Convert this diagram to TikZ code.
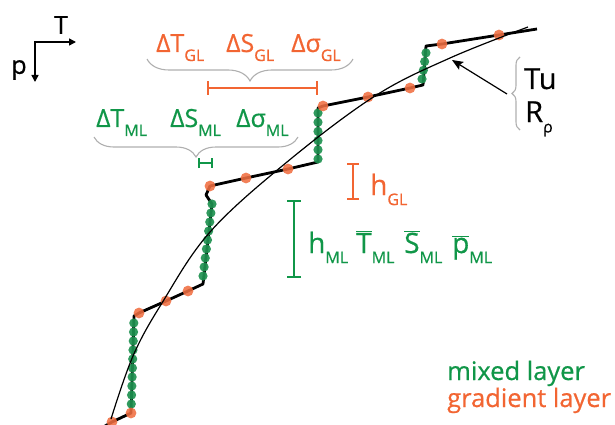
\documentclass[tikz,border=0pt]{standalone}
\usepackage{fontspec}
\setmainfont{Open Sans}[FakeBold=0.6]
\usetikzlibrary{decorations.pathreplacing,arrows.meta}
\definecolor{mlgreen}{RGB}{16,150,72}
\definecolor{glorange}{RGB}{242,101,50}
\definecolor{dotgreen}{RGB}{30,145,80}
\definecolor{dotorange}{RGB}{240,110,65}
\definecolor{bracegray}{RGB}{175,175,175}
\newcommand{\sbs}[1]{\raisebox{-0.36em}{\fontsize{16}{16}\selectfont #1}}
\newcommand{\ovl}[1]{\ensuremath{\overline{\hbox{#1}}}}
\begin{document}
\begin{tikzpicture}[x=1pt,y=-1pt,
  lbl/.style={inner sep=0pt, anchor=base west, font=\fontsize{25}{30}\selectfont},
  hlbl/.style={inner sep=0pt, anchor=base west, font=\fontsize{28}{32}\selectfont},
  leg/.style={inner sep=0pt, anchor=base west, font=\fontsize{25.5}{30}\selectfont},
  stair/.style={line width=2.8pt, line join=round},
  smoothcurve/.style={line width=1.2pt},
  gdot/.style={fill=dotgreen, fill opacity=0.92},
  odot/.style={fill=dotorange, fill opacity=0.88},
  gbrace/.style={draw=bracegray, line width=1.1pt, decorate},
  errbar/.style={line width=1.8pt},
  axisarrow/.style={line width=1.5pt, {Triangle[length=7pt,width=7pt]}-{Triangle[length=7pt,width=7pt]}}
]
\useasboundingbox (0,0) rectangle (615,425);

% axes
\coordinate (axT) at (76,42);
\coordinate (axO) at (35,42);
\coordinate (axP) at (35,82);
\draw[axisarrow] (axT) -- (axO) -- (axP);
\node[inner sep=0pt, font=\fontsize{25}{30}\selectfont] (Tlab) at (61,25) {T};
\node[inner sep=0pt, font=\fontsize{25}{30}\selectfont] (plab) at (19,70) {p};

% staircase corners
\coordinate (s0) at (105,426);
\coordinate (s1) at (112,422);
\coordinate (s2) at (131,413);
\coordinate (s3) at (134,316);
\coordinate (s4) at (139,313);
\coordinate (s5) at (166,301);
\coordinate (s6) at (188,291);
\coordinate (s7) at (203,284);
\coordinate (s8) at (212,204);
\coordinate (s9) at (206,195);
\coordinate (s10) at (210,186);
\coordinate (s11) at (246,178);
\coordinate (s12) at (288,169);
\coordinate (s13) at (318,162);
\coordinate (s14) at (318,108);
\coordinate (s15) at (323,106);
\coordinate (s16) at (368,97);
\coordinate (s17) at (410,88);
\coordinate (s18) at (423,85);
\coordinate (s19) at (426,46);
\coordinate (s20) at (442,44);
\coordinate (s21) at (499,35);
\coordinate (s22) at (537,29);
\draw[stair] (s0) -- (s1) -- (s2) -- (s3) -- (s4) -- (s5) -- (s6) -- (s7) -- (s8)
  -- (s9) -- (s10) -- (s11) -- (s12) -- (s13) -- (s14) -- (s15) -- (s16) -- (s17)
  -- (s18) -- (s19) -- (s20) -- (s21) -- (s22);

% mixed-layer dots
\foreach \i in {0,...,9} {\fill[gdot] ({131.3+0.28*\i},{404-9*\i}) circle (4.6);}
\foreach \i in {0,...,8} {\fill[gdot] ({203+1.125*\i},{276-9*\i}) circle (4.6);}
\foreach \i in {0,...,5} {\fill[gdot] (318,{159-9.2*\i}) circle (4.6);}
\foreach \i in {0,...,3} {\fill[gdot] ({422+1.33*\i},{79-8.7*\i}) circle (4.6);}

% gradient-layer dots
\foreach \p in {s1,s2,s4,s5,s6,s10,s11,s12,s15,s16,s17,s20,s21} {\fill[odot] (\p) circle (5.4);}

% smooth profile
\draw[smoothcurve] plot[smooth, tension=0.6] coordinates {(111,419) (133,356) (162,303) (210,232) (287,162) (375,96) (450,58) (528,27)};

% GL labels
\node[lbl, text=glorange] (dTGL) at (156,52) {ΔT\sbs{GL}};
\node[lbl, text=glorange] (dSGL) at (226,52) {ΔS\sbs{GL}};
\node[lbl, text=glorange] (dsGL) at (291,52) {Δσ\sbs{GL}};
\coordinate (bGLr) at (353,59);
\coordinate (bGLl) at (147,59);
\draw[gbrace, decoration={brace, amplitude=22pt}] (bGLr) -- (bGLl);
\coordinate (eGLa) at (207,88);
\coordinate (eGLb) at (318,88);
\draw[errbar, draw=glorange, {Bar[width=14pt]}-{Bar[width=14pt]}] (eGLa) -- (eGLb);

% ML labels
\node[lbl, text=mlgreen] (dTML) at (96,127) {ΔT\sbs{ML}};
\node[lbl, text=mlgreen] (dSML) at (170,127) {ΔS\sbs{ML}};
\node[lbl, text=mlgreen] (dsML) at (236,127) {Δσ\sbs{ML}};
\coordinate (bMLr) at (298,137);
\coordinate (bMLl) at (94,137);
\draw[gbrace, decoration={brace, amplitude=20pt}] (bMLr) -- (bMLl);
\coordinate (eMLa) at (198,163);
\coordinate (eMLb) at (213,163);
\draw[errbar, line width=1.6pt, draw=mlgreen, {Bar[width=10pt]}-{Bar[width=10pt]}] (eMLa) -- (eMLb);

% h_GL
\coordinate (hGLa) at (353,163);
\coordinate (hGLb) at (353,200);
\draw[errbar, draw=glorange, {Bar[width=12pt]}-{Bar[width=12pt]}] (hGLa) -- (hGLb);
\node[hlbl, text=glorange] (hGL) at (370,195) {h\sbs{GL}};

% h_ML
\coordinate (hMLa) at (294,200);
\coordinate (hMLb) at (294,278);
\draw[errbar, draw=mlgreen, {Bar[width=14pt]}-{Bar[width=14pt]}] (hMLa) -- (hMLb);
\node[hlbl, text=mlgreen] (hML) at (308,253) {h\sbs{ML}};
\node[hlbl, text=mlgreen] (TML) at (356,253) {\ovl{T}\sbs{ML}};
\node[hlbl, text=mlgreen] (SML) at (404,253) {\ovl{S}\sbs{ML}};
\node[hlbl, text=mlgreen] (pML) at (452,253) {\ovl{p}\sbs{ML}};

% Tu, R_rho
\node[inner sep=0pt, anchor=base west, font=\fontsize{29}{34}\selectfont] (Tu) at (524,89) {Tu};
\node[inner sep=0pt, anchor=base west, font=\fontsize{29}{34}\selectfont] (Rrho) at (525,122) {R\sbs{ρ}};
\coordinate (bRb) at (520,130);
\coordinate (bRt) at (520,57);
\draw[gbrace, decoration={brace, amplitude=8pt}] (bRb) -- (bRt);
\coordinate (arrTail) at (507,94);
\coordinate (arrHead) at (452,60);
\draw[line width=1.2pt, -{Stealth[length=11pt,width=9pt,inset=2pt]}] (arrTail) -- (arrHead);

% legend
\node[leg, text=mlgreen] (legML) at (447,380) {mixed layer};
\node[leg, text=glorange] (legGL) at (447,407) {gradient layer};
\end{tikzpicture}
\end{document}
